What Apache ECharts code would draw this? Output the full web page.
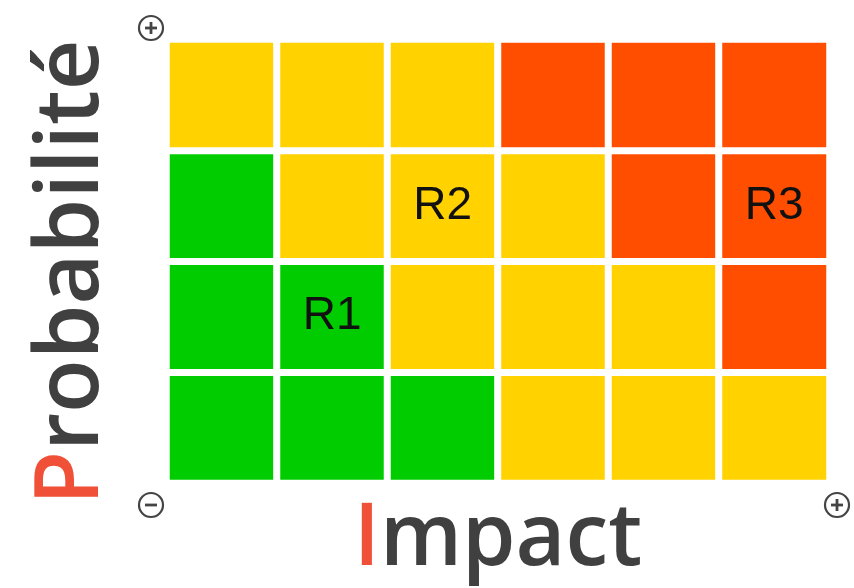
<!DOCTYPE html>
<html><head><meta charset="utf-8">
<script src="https://cdn.jsdelivr.net/npm/echarts@6/dist/echarts.min.js"></script>
<style>html,body{margin:0;padding:0;background:#fff}#c{width:854px;height:588px}</style>
</head><body><div id="c"></div>
<script>
// Impact (x) categories and Probability (y) categories
var impactCats = ['1','2','3','4','5','6'];
var probCats = ['1','2','3','4'];
// Risk level per cell: rows from probability 1 (bottom) to 4 (top); 0=green,1=yellow,2=red
var levelRows = [
  [0,0,0,1,1,1],
  [0,0,1,1,1,2],
  [0,1,1,1,2,2],
  [1,1,1,2,2,2]
];
// Risks placed on the matrix: [impactIndex, probIndex, name]
var risks = [[1,1,'R1'],[2,2,'R2'],[5,2,'R3']];
var levelColors = ['#00CC00','#FFD200','#FF4E00'];

var data = [];
levelRows.forEach(function(row, y){ row.forEach(function(v, x){ data.push([x, y, v]); }); });
function riskName(x, y){ for (var i=0;i<risks.length;i++){ if(risks[i][0]===x && risks[i][1]===y) return risks[i][2]; } return ''; }

var chart = echarts.init(document.getElementById('c'));
function icon(cx, cy, plus){
  var children = [
    {type:'circle', shape:{cx:cx, cy:cy, r:12}, style:{fill:'#fff', stroke:'#444', lineWidth:2.2}},
    {type:'line', shape:{x1:cx-6, y1:cy, x2:cx+6, y2:cy}, style:{stroke:'#444', lineWidth:2.8}}
  ];
  if (plus) children.push({type:'line', shape:{x1:cx, y1:cy-6, x2:cx, y2:cy+6}, style:{stroke:'#444', lineWidth:2.8}});
  return {type:'group', children: children};
}
var titleRich = function(size){ return {
  r:{color:'#F05038', fontFamily:'Open Sans', fontWeight:600, fontSize:size},
  g:{color:'#404040', fontFamily:'Open Sans', fontWeight:600, fontSize:size}
};};
chart.setOption({
  animation:false,
  grid:{left:166.5, right:24.5, top:39.5, bottom:101.5},
  xAxis:{type:'category', data:impactCats, axisLine:{show:false}, axisTick:{show:false}, axisLabel:{show:false}, splitLine:{show:false},
    name:'{r|I}{g|mpact}', nameLocation:'middle', nameGap:14,
    nameTextStyle:{rich:titleRich(86)}},
  yAxis:{type:'category', data:probCats, axisLine:{show:false}, axisTick:{show:false}, axisLabel:{show:false}, splitLine:{show:false},
    name:'{r|P}{g|robabilité}', nameLocation:'middle', nameGap:50, nameRotate:90,
    nameTextStyle:{padding:[0,22,0,0], rich:titleRich(88)}},
  visualMap:{show:false, type:'piecewise', dimension:2, pieces:[{value:0,color:levelColors[0]},{value:1,color:levelColors[1]},{value:2,color:levelColors[2]}]},
  series:[{type:'heatmap', data:data,
    itemStyle:{borderColor:'#fff', borderWidth:7},
    label:{show:true, color:'#111', fontFamily:'Liberation Sans', fontSize:46,
      formatter:function(p){ return riskName(p.value[0], p.value[1]); }},
    emphasis:{disabled:true}
  }],
  graphic:[icon(151,28,true), icon(151,505,false), icon(837,505,true)]
});
</script></body></html>
